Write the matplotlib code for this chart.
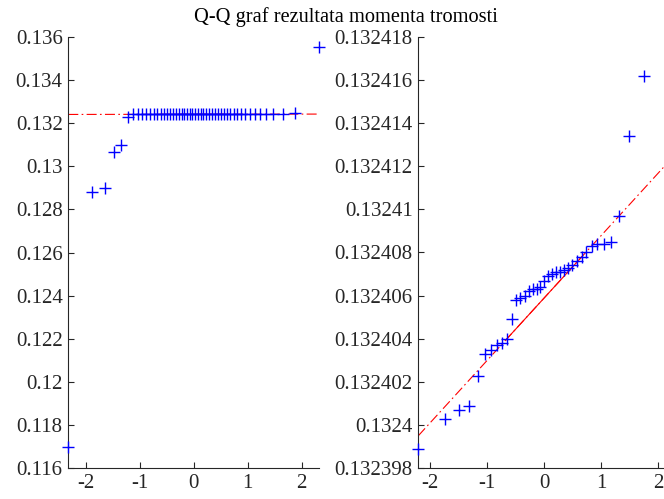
import numpy as np
import matplotlib
matplotlib.use("Agg")
import matplotlib.pyplot as plt
from statistics import NormalDist

title = "Q-Q graf rezultata momenta tromosti"

# sorted sample values (left: all measurements, right: without outliers)
left_values = [
    0.11699, 0.12881, 0.12900, 0.13064, 0.13096, 0.13226,
    0.1323989, 0.1324003, 0.1324007, 0.1324009, 0.1324023, 0.1324033,
    0.1324035, 0.1324037, 0.1324038, 0.1324040, 0.1324049, 0.1324058,
    0.1324059, 0.1324060, 0.1324062, 0.1324063, 0.1324063, 0.1324064,
    0.1324067, 0.1324069, 0.1324070, 0.1324071, 0.1324071, 0.1324072,
    0.1324073, 0.1324074, 0.1324076, 0.1324078, 0.1324080, 0.1324083,
    0.1324084, 0.1324084, 0.1324085, 0.1324097, 0.1324134, 0.1324162,
    0.1324175, 0.13242, 0.13243, 0.13243, 0.13244, 0.13244,
    0.132475, 0.13554,
]
right_values = [
    0.1323989, 0.1324003, 0.1324007, 0.1324009, 0.1324023, 0.1324033,
    0.1324035, 0.1324037, 0.1324038, 0.1324040, 0.1324049, 0.1324058,
    0.1324059, 0.1324060, 0.1324062, 0.1324063, 0.1324063, 0.1324064,
    0.1324067, 0.1324069, 0.1324070, 0.1324071, 0.1324071, 0.1324072,
    0.1324073, 0.1324074, 0.1324076, 0.1324078, 0.1324080, 0.1324083,
    0.1324084, 0.1324084, 0.1324085, 0.1324097, 0.1324134, 0.1324162,
    0.1324175,
]
x_ticks = [-2, -1, 0, 1, 2]
left_yticks = [0.116, 0.118, 0.120, 0.122, 0.124, 0.126, 0.128, 0.130,
               0.132, 0.134, 0.136]
right_yticks = [0.132398, 0.132400, 0.132402, 0.132404, 0.132406, 0.132408,
                0.132410, 0.132412, 0.132414, 0.132416, 0.132418]

FONT = "Liberation Serif"
AXC = "#262626"
plt.rcParams["font.family"] = [FONT, "DejaVu Serif"]

fig = plt.figure(figsize=(6.64, 4.99), dpi=100)
W, H = 664.0, 499.0
nd = NormalDist()


def qq(ax, values, yticks):
    data = np.sort(np.asarray(values, dtype=float))
    n = len(data)
    q = np.array([nd.inv_cdf((i - 0.5) / n) for i in range(1, n + 1)])
    p25, p75 = np.percentile(data, [25, 75], method="hazen")
    z25, z75 = nd.inv_cdf(0.25), nd.inv_cdf(0.75)
    slope = (p75 - p25) / (z75 - z25)
    icpt = p25 - slope * z25
    xe = np.array([q[0], q[-1]])
    ax.plot(xe, icpt + slope * xe, color="red", lw=0.8,
            dashes=(9, 3, 1.5, 3), clip_on=False, zorder=2)
    xs = np.array([z25, z75])
    ax.plot(xs, icpt + slope * xs, color="red", lw=0.8, ls="-", zorder=2)
    ax.plot(q, data, ls="none", marker="+", color="blue", ms=9, mew=1.0,
            clip_on=False, zorder=3)
    ax.set_xlim(q[0], q[-1])
    ax.set_ylim(yticks[0], yticks[-1])
    ax.set_xticks(x_ticks)
    ax.set_xticklabels([f"{t:g}" for t in x_ticks])
    ax.set_yticks(yticks)
    ax.set_yticklabels([f"{t:.6g}" for t in yticks])
    for s in ("top", "right"):
        ax.spines[s].set_visible(False)
    for s in ("left", "bottom"):
        ax.spines[s].set_color(AXC)
        ax.spines[s].set_linewidth(0.8)
    ax.tick_params(direction="in", length=4, width=0.8, color=AXC,
                   labelcolor=AXC, labelsize=15, pad=4)
    for lab in ax.get_xticklabels() + ax.get_yticklabels():
        lab.set_family(FONT)


axL = fig.add_axes([68.3 / W, (H - 468.3) / H, 251.0 / W, 431.6 / H])
qq(axL, left_values, left_yticks)
axR = fig.add_axes([418.3 / W, (H - 468.3) / H, 252.0 / W, 431.6 / H])
qq(axR, right_values, right_yticks)

fig.text(345.5 / W, 1 - 17 / H, title, ha="center", va="center",
         fontsize=14.7, color="black", family=FONT)

fig.savefig("out.png", dpi=100)
